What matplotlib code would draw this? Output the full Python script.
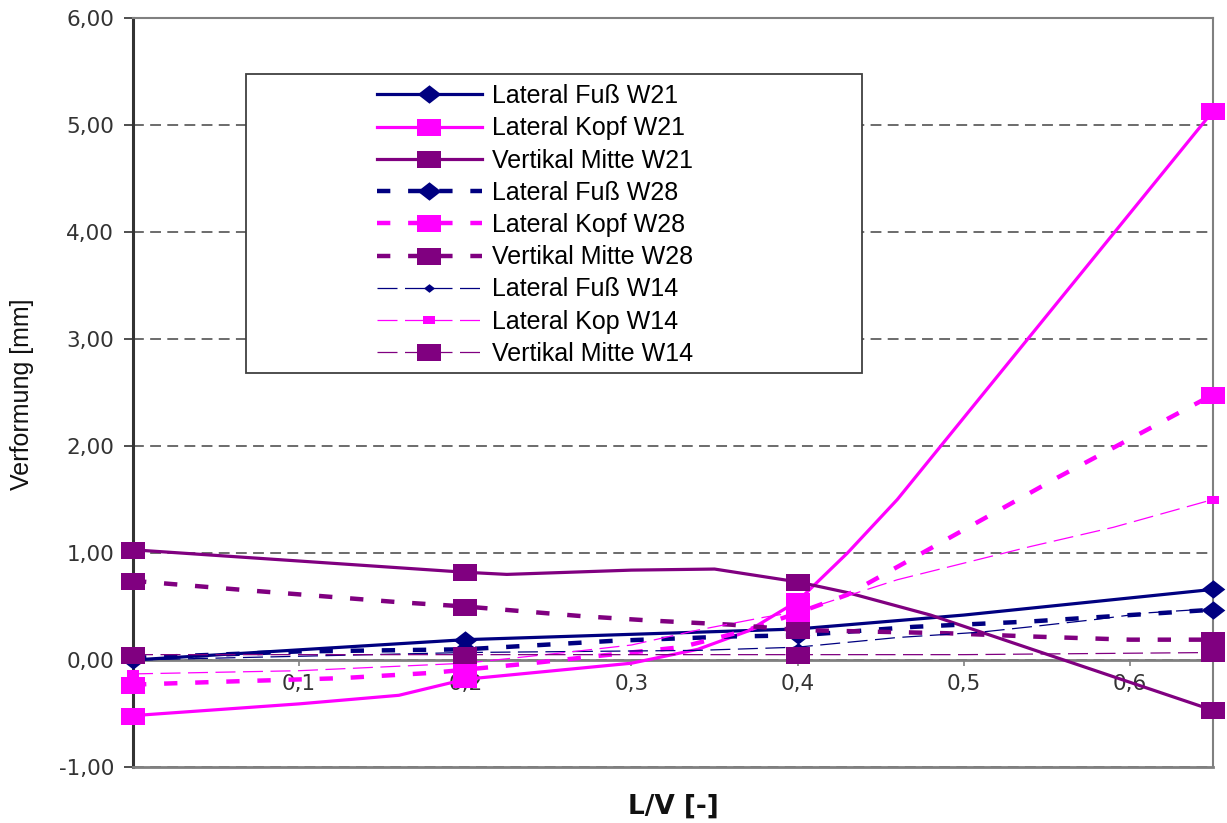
import numpy as np
import matplotlib
matplotlib.use("Agg")
import matplotlib.pyplot as plt
from matplotlib.path import Path
from matplotlib.patches import Rectangle
from matplotlib.ticker import FuncFormatter

# --- data (L/V vs. Verformung in mm) ---
MARK_X = [0.0, 0.2, 0.4, 0.65]  # points carrying markers

fuss_w21_x = [0.0, 0.2, 0.4, 0.5, 0.65]
fuss_w21_y = [0.0, 0.19, 0.29, 0.42, 0.66]

kopf_w21_x = [0.0, 0.1, 0.16, 0.2, 0.3, 0.34, 0.37, 0.4, 0.43, 0.46, 0.65]
kopf_w21_y = [-0.52, -0.41, -0.33, -0.18, -0.03, 0.1, 0.27, 0.55, 1.0, 1.5, 5.13]

vert_w21_x = [0.0, 0.2, 0.225, 0.3, 0.35, 0.4, 0.43, 0.48, 0.65]
vert_w21_y = [1.03, 0.82, 0.80, 0.84, 0.85, 0.73, 0.63, 0.42, -0.47]

fuss_w28_x = [0.0, 0.1, 0.2, 0.29, 0.36, 0.4, 0.47, 0.54, 0.65]
fuss_w28_y = [0.02, 0.08, 0.1, 0.18, 0.22, 0.23, 0.31, 0.36, 0.47]

kopf_w28_x = [0.0, 0.06, 0.125, 0.18, 0.2, 0.24, 0.275, 0.33, 0.37, 0.4, 0.43, 0.46, 0.557, 0.65]
kopf_w28_y = [-0.23, -0.2, -0.17, -0.12, -0.09, -0.03, 0.03, 0.12, 0.28, 0.44, 0.61, 0.87, 1.71, 2.48]

vert_w28_x = [0.0, 0.07, 0.16, 0.2, 0.27, 0.31, 0.36, 0.4, 0.49, 0.54, 0.6, 0.65]
vert_w28_y = [0.74, 0.65, 0.54, 0.5, 0.41, 0.37, 0.33, 0.28, 0.25, 0.22, 0.19, 0.19]

fuss_w14_x = [0.0, 0.2, 0.34, 0.4, 0.46, 0.51, 0.54, 0.58, 0.61, 0.65]
fuss_w14_y = [0.0, 0.07, 0.09, 0.12, 0.21, 0.26, 0.31, 0.38, 0.44, 0.48]

kop_w14_x = [0.0, 0.1, 0.2, 0.26, 0.3, 0.34, 0.38, 0.4, 0.46, 0.54, 0.59, 0.65]
kop_w14_y = [-0.13, -0.1, -0.03, 0.07, 0.14, 0.28, 0.4, 0.45, 0.75, 1.06, 1.24, 1.5]

vert_w14_x = [0.0, 0.2, 0.4, 0.5, 0.65]
vert_w14_y = [0.05, 0.05, 0.05, 0.05, 0.07]

labels = [
    "Lateral Fuß W21", "Lateral Kopf W21", "Vertikal Mitte W21",
    "Lateral Fuß W28", "Lateral Kopf W28", "Vertikal Mitte W28",
    "Lateral Fuß W14", "Lateral Kop W14", "Vertikal Mitte W14",
]

NAVY = "#000080"
MAGENTA = "#FF00FF"
PURPLE = "#800080"

# slightly wide markers like the Excel output
DIAMOND = Path([(-1, 0), (0, 0.78), (1, 0), (0, -0.78), (-1, 0)], closed=True)
RECT = Path([(-1, -0.72), (1, -0.72), (1, 0.72), (-1, 0.72), (-1, -0.72)], closed=True)

SOLID = dict(lw=2.3, ls="-")
THICK_DASH = dict(lw=3.2, dashes=(3, 4))
THIN_DASH = dict(lw=0.9, dashes=(16, 6))

series = [
    (fuss_w21_x, fuss_w21_y, NAVY, SOLID, DIAMOND, 17),
    (kopf_w21_x, kopf_w21_y, MAGENTA, SOLID, RECT, 17),
    (vert_w21_x, vert_w21_y, PURPLE, SOLID, RECT, 17),
    (fuss_w28_x, fuss_w28_y, NAVY, THICK_DASH, DIAMOND, 17),
    (kopf_w28_x, kopf_w28_y, MAGENTA, THICK_DASH, RECT, 17),
    (vert_w28_x, vert_w28_y, PURPLE, THICK_DASH, RECT, 17),
    (fuss_w14_x, fuss_w14_y, NAVY, THIN_DASH, DIAMOND, 8),
    (kop_w14_x, kop_w14_y, MAGENTA, THIN_DASH, RECT, 8),
    (vert_w14_x, vert_w14_y, PURPLE, THIN_DASH, RECT, 17),
]

W, H = 1227, 823
fig = plt.figure(figsize=(W / 100, H / 100), dpi=100)
ax = fig.add_axes([133 / W, 1 - 767 / H, (1213 - 133) / W, (767 - 18) / H])

handles = []
for (xs, ys, col, style, mk, ms), lab in zip(series, labels):
    xs = np.asarray(xs)
    every = list(np.where(np.isin(np.round(xs, 3), MARK_X))[0])
    (ln,) = ax.plot(xs, ys, color=col, marker=mk, markersize=ms,
                    markevery=every, markeredgewidth=0, label=lab,
                    clip_on=False, zorder=3, **style)
    handles.append(ln)

ax.set_xlim(0, 0.65)
ax.set_ylim(-1, 6)
ax.set_yticks(range(-1, 7))
ax.set_xticks([0, 0.1, 0.2, 0.3, 0.4, 0.5, 0.6])
ax.yaxis.set_major_formatter(FuncFormatter(lambda v, p: f"{v:.2f}".replace(".", ",")))
ax.xaxis.set_major_formatter(
    FuncFormatter(lambda v, p: "0" if abs(v) < 1e-9 else f"{v:.1f}".replace(".", ",")))

ax.grid(axis="y", color="#606060", lw=1.3, ls=(0, (6, 3.5)), zorder=1)

for side in ("top", "right"):
    ax.spines[side].set_color("#808080")
    ax.spines[side].set_linewidth(1.5)
ax.spines["left"].set_color("#333333")
ax.spines["left"].set_linewidth(2.2)
ax.spines["bottom"].set_position(("data", 0))
ax.spines["bottom"].set_color("#808080")
ax.spines["bottom"].set_linewidth(2)
ax.axhline(-1, color="#808080", lw=2, clip_on=False, zorder=2.6)

ax.tick_params(axis="y", direction="out", length=6.5, width=1.3, color="#404040",
               labelsize=15.5, labelcolor="#333333", pad=7)
ax.tick_params(axis="x", direction="out", length=4, width=1.2, color="#808080",
               labelsize=15.5, labelcolor="#333333", pad=6)

fig.text(22 / W, 1 - 394 / H, "Verformung [mm]", rotation=90, ha="center", va="center",
         family="Liberation Sans", fontsize=18, color="#111111")
fig.text(673 / W, 1 - 807 / H, "L/V [-]", ha="center", va="center",
         fontweight="bold", fontsize=19, color="#111111")

# legend box drawn separately, entries sit right of a wide empty margin
box = Rectangle((246 / W, 1 - 373 / H), (862 - 246) / W, (373 - 74) / H,
                transform=fig.transFigure, facecolor="white", edgecolor="#404040",
                lw=1.3, zorder=4)
fig.add_artist(box)
leg = fig.legend(handles, labels, loc="upper left",
                 bbox_to_anchor=(377 / W, 1 - 84 / H), bbox_transform=fig.transFigure,
                 frameon=False, borderpad=0, borderaxespad=0, handlelength=4.2,
                 handletextpad=0.4, labelspacing=0.33,
                 prop={"family": "Liberation Sans", "size": 18})
leg.set_zorder(5)

fig.savefig("out.png", dpi=100)
